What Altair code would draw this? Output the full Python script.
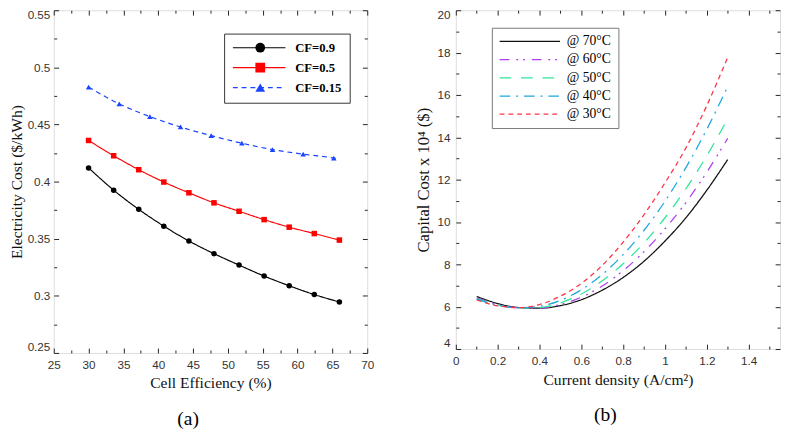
import altair as alt
import pandas as pd

# ---------------- panel (a): electricity cost vs cell efficiency ----------------
series_a = ["CF=0.9", "CF=0.5", "CF=0.15"]
marker_keys_a = ["m0.9", "m0.5", "m0.15"]
colors_a = ["#000000", "#ff0000", "#1a44ff"]
dash_a = [[1, 0], [1, 0], [5, 4]]
shapes_a = ["circle", "square", "triangle-up"]

eff_a = [30, 33.6, 37.2, 40.8, 44.4, 48.0, 51.6, 55.2, 58.8, 62.4, 66.0]
cost_cf09 = [0.412, 0.3925, 0.3757, 0.361, 0.348, 0.3369, 0.3269, 0.3173, 0.3088, 0.3011, 0.2946]
cost_cf05 = [0.436, 0.4226, 0.4104, 0.3996, 0.3902, 0.3814, 0.374, 0.3667, 0.3601, 0.3545, 0.3488]
eff_cf015 = [30, 34.4, 38.8, 43.2, 47.6, 52.0, 56.4, 60.8, 65.2, 66.0]
cost_cf015 = [0.4827, 0.468, 0.4569, 0.4478, 0.4402, 0.4336, 0.428, 0.424, 0.4206, 0.4197]
marker_cf015 = [1, 1, 1, 1, 1, 1, 1, 1, 1, 0]

x_major_a = [25, 30, 35, 40, 45, 50, 55, 60, 65, 70]
x_minor_a = [27.5, 32.5, 37.5, 42.5, 47.5, 52.5, 57.5, 62.5, 67.5]
y_major_a = [0.25, 0.3, 0.35, 0.4, 0.45, 0.5, 0.55]
y_minor_a = [0.275, 0.325, 0.375, 0.425, 0.475, 0.525]

# ---------------- panel (b): capital cost vs current density ----------------
series_b = ["@ 70°C", "@ 60°C", "@ 50°C", "@ 40°C", "@ 30°C"]
colors_b = ["#111111", "#b040ee", "#2ee69a", "#1ea6e0", "#ff3347"]
dash_b = [[1, 0], [10, 7, 2, 5, 2, 7], [12, 10], [11, 6, 2, 6], [5, 4]]

density_b = [0.1, 0.2, 0.3, 0.4, 0.5, 0.6, 0.7, 0.8, 0.9, 1.0, 1.1, 1.2, 1.3]
cost_70 = [6.48, 6.15, 5.96, 5.93, 6.05, 6.33, 6.78, 7.38, 8.15, 9.10, 10.20, 11.50, 12.95]
cost_60 = [6.42, 6.10, 5.95, 5.93, 6.10, 6.45, 6.98, 7.70, 8.60, 9.68, 10.92, 12.35, 13.95]
cost_50 = [6.38, 6.08, 5.94, 5.96, 6.18, 6.60, 7.22, 8.03, 9.02, 10.20, 11.57, 13.13, 14.88]
cost_40 = [6.36, 6.06, 5.95, 6.02, 6.30, 6.80, 7.52, 8.46, 9.61, 10.98, 12.57, 14.38, 16.40]
cost_30 = [6.32, 6.04, 5.96, 6.10, 6.50, 7.10, 7.95, 9.05, 10.35, 11.85, 13.50, 15.50, 17.78]

x_major_b = [0, 0.2, 0.4, 0.6, 0.8, 1.0, 1.2, 1.4]
x_minor_b = [0.1, 0.3, 0.5, 0.7, 0.9, 1.1, 1.3, 1.5]
y_major_b = [4, 6, 8, 10, 12, 14, 16, 18, 20]
y_minor_b = [5, 7, 9, 11, 13, 15, 17, 19]

# ---------------- tables ----------------
rows_a = []
for e, c in zip(eff_a, cost_cf09):
    rows_a.append({"eff": e, "cost": c, "series": series_a[0], "mk": marker_keys_a[0], "marker": 1})
for e, c in zip(eff_a, cost_cf05):
    rows_a.append({"eff": e, "cost": c, "series": series_a[1], "mk": marker_keys_a[1], "marker": 1})
for e, c, m in zip(eff_cf015, cost_cf015, marker_cf015):
    rows_a.append({"eff": e, "cost": c, "series": series_a[2], "mk": marker_keys_a[2], "marker": m})
df_a = pd.DataFrame(rows_a)

rows_b = []
for name, vals in zip(series_b, [cost_70, cost_60, cost_50, cost_40, cost_30]):
    for d, v in zip(density_b, vals):
        rows_b.append({"density": d, "cost": v, "temp": name})
df_b = pd.DataFrame(rows_b)

# ---------------- layout constants ----------------
W1, H1 = 322, 352
W2, H2 = 333, 348
TMAJ, TMIN = 5, 3
SERIF = "Liberation Serif, Times New Roman, serif"
SANS = "Liberation Sans, Arial, sans-serif"


def grid_dash(test, length):
    return {"condition": {"test": test, "value": [TMAJ, length - 2 * TMAJ, TMAJ]},
            "value": [TMIN, length - 2 * TMIN, TMIN]}


def make_axis(title, values, test, length, label_pad, title_pad, title_size=16, flush=False):
    return alt.Axis(
        title=title, values=values, grid=True, gridColor="#222222", gridOpacity=1, gridWidth=1,
        gridDash=grid_dash(test, length), ticks=False, domain=False,
        labelExpr=f"({test}) ? datum.label : ''", format="~g",
        labelFont=SANS, labelFontSize=12, labelColor="#333333",
        labelPadding=label_pad, labelOverlap=False, labelFlush=flush,
        titleFont=SERIF, titleFontSize=title_size, titleFontWeight="normal",
        titleColor="#111111", titlePadding=title_pad,
    )


test_xa = "datum.value % 5 === 0"
test_ya = "abs(datum.value * 20 - round(datum.value * 20)) < 0.01"
test_xb = "abs(datum.value * 5 - round(datum.value * 5)) < 0.01"
test_yb = "datum.value % 2 === 0"

x_a = alt.X("eff:Q", scale=alt.Scale(domain=[25, 70], nice=False, zero=False),
            axis=make_axis("Cell Efficiency (%)", x_major_a + x_minor_a, test_xa, H1, 7, 5))
y_a = alt.Y("cost:Q", scale=alt.Scale(domain=[0.25, 0.55], nice=False, zero=False),
            axis=make_axis("Electricity Cost ($/kWh)", y_major_a + y_minor_a, test_ya, W1, 4, 3, flush=True))

leg_line_a = alt.Legend(
    title=None, orient="none", legendX=175, legendY=24, direction="vertical",
    symbolType="stroke", symbolSize=2916, symbolStrokeWidth=1.2, clipHeight=13,
    labelFont=SERIF, labelFontSize=13, labelFontWeight="bold", labelColor="black",
    labelOffset=9, padding=8, rowPadding=6.5, strokeColor="#333333", fillColor="white", cornerRadius=0,
)
leg_pt_a = alt.Legend(
    title=None, orient="none", legendX=197.6, legendY=24, direction="vertical",
    symbolSize=100, symbolStrokeWidth=0, clipHeight=13,
    labelFont=SERIF, labelFontSize=13, labelFontWeight="bold", labelExpr="''",
    labelOffset=9, padding=8, rowPadding=6.5,
)

lines_a = alt.Chart(df_a).mark_line(strokeWidth=1.2, interpolate="monotone").encode(
    x=x_a, y=y_a,
    stroke=alt.Stroke("series:N", scale=alt.Scale(domain=series_a, range=colors_a), legend=leg_line_a),
    strokeDash=alt.StrokeDash("series:N", scale=alt.Scale(domain=series_a, range=dash_a), legend=leg_line_a),
)
points_a = alt.Chart(df_a).transform_filter("datum.marker == 1").mark_point(
    filled=True, size=32, opacity=1
).encode(
    x=x_a, y=y_a,
    fill=alt.Fill("mk:N", scale=alt.Scale(domain=marker_keys_a, range=colors_a), legend=leg_pt_a),
    shape=alt.Shape("mk:N", scale=alt.Scale(domain=marker_keys_a, range=shapes_a), legend=leg_pt_a),
)

panel_a = alt.layer(lines_a, points_a).properties(
    width=W1, height=H1,
    title=alt.TitleParams("(a)", orient="bottom", font=SERIF, fontSize=20,
                          fontWeight="normal", color="black", offset=19, anchor="middle", dx=-23),
)

x_b = alt.X("density:Q", scale=alt.Scale(domain=[0, 1.55], nice=False, zero=False),
            axis=make_axis("Current density (A/cm²)", x_major_b + x_minor_b, test_xb, H2, 7, 5))
y_b = alt.Y("cost:Q", scale=alt.Scale(domain=[4, 20], nice=False, zero=False),
            axis=make_axis("Capital Cost x 10⁴ ($)", y_major_b + y_minor_b, test_yb, W2, 6, 5,
                           title_size=17, flush=True))

leg_b = alt.Legend(
    title=None, orient="none", legendX=37, legendY=18, direction="vertical",
    symbolType="stroke", symbolSize=3844, symbolStrokeWidth=1.3, clipHeight=14,
    labelFont=SERIF, labelFontSize=14, labelColor="black",
    labelOffset=6, padding=7, rowPadding=4.7, strokeColor="#777777", fillColor="white", cornerRadius=0,
)

lines_b = alt.Chart(df_b).mark_line(strokeWidth=1.3, interpolate="monotone").encode(
    x=x_b, y=y_b,
    stroke=alt.Stroke("temp:N", scale=alt.Scale(domain=series_b, range=colors_b), legend=leg_b),
    strokeDash=alt.StrokeDash("temp:N", scale=alt.Scale(domain=series_b, range=dash_b), legend=leg_b),
)

panel_b = lines_b.properties(
    width=W2, height=H2,
    title=alt.TitleParams("(b)", orient="bottom", font=SERIF, fontSize=20,
                          fontWeight="normal", color="black", offset=19, anchor="middle", dx=-13),
)

chart = alt.hconcat(panel_a, panel_b, spacing=40).resolve_scale(
    stroke="independent", strokeDash="independent", fill="independent", shape="independent"
).properties(
    padding={"left": 0, "top": -5.5, "right": 0, "bottom": 0}
).configure_view(
    stroke="#222222", strokeWidth=1
).configure_axis(
    titleFont=SERIF, labelFont=SANS
).configure(background="white")

chart.save("out.html", embed_options={"renderer": "svg", "actions": False})
